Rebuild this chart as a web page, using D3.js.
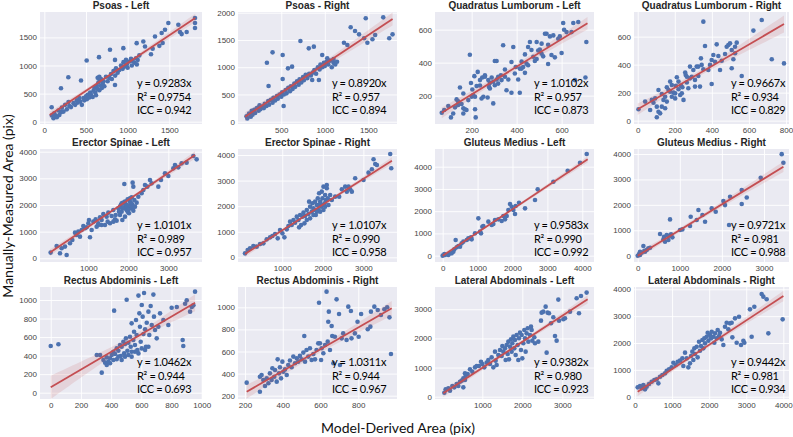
<!DOCTYPE html>
<html>
<head>
<meta charset="utf-8">
<script src="https://cdn.jsdelivr.net/npm/d3@7"></script>
<style>
  body { margin: 0; background: #fff; }
  .tick text { font-family: 'Liberation Sans', Arial, sans-serif; font-size: 8px; fill: #444; }
  .title { font-family: 'Liberation Sans', Arial, sans-serif; font-size: 10px; font-weight: bold; fill: #262626; }
  .note { font-family: Lato, 'Open Sans', sans-serif; font-size: 11px; letter-spacing: -0.3px; fill: #000; }
  .label { font-family: Lato, 'Open Sans', sans-serif; font-size: 14px; fill: #111; }
</style>
</head>
<body>
<svg id="chart" width="793" height="437"></svg>
<script>
const titles = [
  'Psoas - Left', 'Psoas - Right', 'Quadratus Lumborum - Left', 'Quadratus Lumborum - Right',
  'Erector Spinae - Left', 'Erector Spinae - Right', 'Gluteus Medius - Left', 'Gluteus Medius - Right',
  'Rectus Abdominis - Left', 'Rectus Abdominis - Right', 'Lateral Abdominals - Left', 'Lateral Abdominals - Right'
];
const slopeText = ['0.9283', '0.8920', '1.0102', '0.9667', '1.0101', '1.0107', '0.9583', '0.9721', '1.0462', '1.0311', '0.9382', '0.9442'];
const r2Text = ['0.9754', '0.957', '0.957', '0.934', '0.989', '0.990', '0.990', '0.981', '0.944', '0.944', '0.980', '0.981'];
const iccText = ['0.942', '0.894', '0.873', '0.829', '0.957', '0.958', '0.992', '0.988', '0.693', '0.967', '0.923', '0.934'];

// axis limits [min, max]
const xLimits = [[-52, 1892], [3, 1829], [37, 744], [-20, 816], [-208, 3842], [-91, 3829],
  [-220, 4335], [-88, 3594], [-71, 1002], [163, 1005], [-183, 3792], [-27, 4153]];
const yLimits = [[-41, 1952], [-42, 2013], [28, 707], [-24, 776], [-139, 4101], [-182, 4234],
  [-285, 4795], [-248, 4197], [-68, 1140], [170, 1184], [-79, 3765], [-86, 4086]];

const xTicks = [[0, 500, 1000, 1500], [500, 1000, 1500], [200, 400, 600], [0, 200, 400, 600, 800],
  [1000, 2000, 3000], [1000, 2000, 3000], [0, 1000, 2000, 3000, 4000], [0, 1000, 2000, 3000],
  [0, 200, 400, 600, 800, 1000], [200, 400, 600, 800], [1000, 2000, 3000], [0, 1000, 2000, 3000, 4000]];
const yTicks = [[0, 500, 1000, 1500], [0, 500, 1000, 1500, 2000], [200, 400, 600], [0, 200, 400, 600],
  [0, 1000, 2000, 3000, 4000], [0, 1000, 2000, 3000, 4000], [0, 1000, 2000, 3000, 4000], [0, 1000, 2000, 3000, 4000],
  [0, 200, 400, 600, 800, 1000], [200, 400, 600, 800, 1000], [0, 1000, 2000, 3000], [0, 1000, 2000, 3000, 4000]];

// fitted line ends [x0, y0, x1, y1]
const fitLines = [[64, 120, 1811, 1846], [85, 92, 1778, 1885], [67, 96, 715, 639], [0, 81, 789, 690],
  [42, 213, 3667, 3875], [82, 130, 3704, 3779], [0, 0, 4154, 4329], [0, 0, 3461, 3498],
  [0, 58, 956, 971], [209, 236, 977, 991], [25, 115, 3633, 3343], [72, 186, 4001, 3751]];

const psoasLeft = [[88,256],[200,595],[288,791],[508,1089],[656,1149],[788,1279],[948,1309],[440,732],[848,1100],[848,654],
  [90,110],[110,60],[120,150],[140,100],[150,80],[170,200],[180,120],[200,170],[210,250],[230,180],[250,300],[270,220],
  [290,350],[300,280],[320,260],[350,330],[370,300],[390,380],[400,340],[420,420],[430,360],[450,300],[470,420],[480,380],
  [500,450],[510,400],[520,480],[540,430],[550,520],[560,480],[580,440],[590,550],[600,600],[610,520],[620,470],[630,640],
  [640,580],[650,700],[660,560],[670,750],[680,640],[690,600],[700,680],[710,720],[720,630],[740,800],[760,720],[780,780],
  [800,850],[810,760],[830,900],[850,820],[860,950],[880,870],[900,920],[920,1000],[940,940],[950,1060],[960,980],[980,1100],
  [990,1020],[1000,960],[1020,1070],[1040,1120],[1050,1000],[1060,1080],[1080,1050],[1100,1130],[1110,1020],[1120,1100],
  [1140,1180],[1188,1428],[1208,1339],[1108,1398],[1328,1517],[1280,1200],[1300,1300],[1380,1350],[1420,1400],[1408,1577],
  [1448,1636],[1488,1755],[1608,1726],[1628,1595],[1648,1559],[1708,1595],[1808,1755],[1808,1666],[1808,1845],
  [640,780],[660,800],[680,760]];

const psoasRight = [[335,1083],[400,1273],[516,1224],[720,1481],[816,1346],[874,1377],[577,979],[624,1010],[354,655],
  [516,783],[527,288],[855,765],[932,765],[970,1224],[1028,1163],[1220,1450],[1259,1408],[1297,1732],[1347,1665],
  [1393,1603],[1470,1897],[1451,1530],[1489,1450],[1547,1512],[1578,1591],[1671,1915],[1740,1530],[1778,1603],
  [100,100],[110,60],[130,150],[150,90],[160,200],[170,130],[190,220],[200,160],[220,250],[240,200],[250,300],[260,230],
  [280,280],[300,250],[310,330],[330,290],[350,380],[360,310],[380,400],[400,350],[410,440],[430,390],[450,470],[460,420],
  [480,500],[500,460],[510,540],[530,500],[550,580],[560,520],[580,620],[600,560],[610,650],[630,600],[650,700],[660,640],
  [680,740],[700,680],[710,780],[730,720],[750,820],[760,760],[780,860],[800,800],[820,880],[840,850],[860,900],[880,950],
  [900,880],[920,1000],[940,960],[950,1050],[970,1000],[990,1080],[1000,1020],[1020,1100],[1040,1050],[1060,1120],
  [1080,1000],[1100,1080],[1120,1050],[1140,1100],[1100,1150]];

const qlLeft = [[67,96],[78,113],[108,68],[96,137],[126,129],[133,177],[140,165],[148,249],[155,149],[163,123],[170,117],
  [163,92],[192,448],[200,193],[203,237],[215,117],[218,68],[197,277],[212,318],[222,258],[227,344],[237,294],[247,310],
  [252,193],[259,324],[271,189],[277,253],[281,277],[289,310],[296,153],[303,410],[311,410],[311,298],[318,273],[330,324],
  [340,505],[348,358],[363,298],[377,217],[377,404],[385,495],[396,374],[407,298],[414,217],[422,406],[429,374],[437,338],
  [437,450],[451,495],[459,525],[466,477],[474,436],[489,422],[489,525],[496,474],[503,480],[511,454],[518,438],[526,575],
  [533,575],[540,508],[548,559],[555,446],[563,565],[607,640],[611,599],[622,585],[644,585],[652,640],[674,646],[710,525],
  [706,310],[659,294],[118,92],[140,143],[177,113],[163,213],[185,173],[207,203],[215,193],[237,261],[244,183],[259,314],
  [274,294],[281,243],[296,284],[303,263],[318,314],[333,294],[348,314],[355,233],[392,334],[414,364],[422,364],[444,394],
  [451,384],[481,410],[511,515],[540,392],[570,432],[585,545],[592,559],[600,458]];

const qlRight = [[4,81],[40,136],[85,128],[94,159],[103,100],[112,64],[121,52],[103,24],[130,190],[139,148],[148,171],
  [157,238],[148,88],[166,219],[175,279],[184,171],[193,200],[202,159],[206,248],[211,310],[220,224],[229,183],[234,248],
  [241,238],[256,343],[259,326],[265,272],[273,231],[282,386],[291,314],[300,362],[309,291],[318,386],[327,319],[336,243],
  [345,398],[354,367],[354,707],[363,533],[381,362],[390,398],[399,433],[399,262],[408,469],[417,421],[426,545],[435,462],
  [444,362],[453,428],[471,476],[480,528],[489,540],[498,552],[507,505],[516,438],[525,481],[525,528],[534,557],[561,319],
  [624,643],[669,719],[723,438],[789,409],[507,374],[67,76],[76,148],[112,219],[130,100],[157,136],[175,207],[184,255],
  [202,195],[220,279],[238,195],[247,148],[265,314],[282,302],[309,243],[327,386],[341,445]];

const esLeft = [[58,213],[208,463],[292,188],[458,125],[333,375],[417,438],[542,563],[600,688],[667,963],[750,1000],
  [792,813],[875,1213],[958,1163],[1000,1313],[1042,788],[1083,1063],[1125,1375],[1183,1463],[1250,1250],[1292,1538],
  [1333,1438],[1375,1663],[1417,1250],[1458,1563],[1500,1713],[1542,1313],[1583,1588],[1625,1813],[1667,1463],[1708,1413],
  [1750,1875],[1792,1625],[1813,2000],[1833,1750],[1850,1438],[1875,2088],[1900,1875],[1917,1563],[1933,2038],[1958,1813],
  [1983,2213],[2000,1938],[2017,1688],[2042,2125],[2067,1875],[2083,2288],[2100,2000],[2125,1788],[2150,2188],[2167,1938],
  [2108,2838],[1900,2788],[2125,2688],[2208,2088],[2250,2313],[2333,2438],[2375,2563],[2417,2750],[2475,2688],[2542,2938],
  [2583,2813],[2750,2688],[2817,2938],[2917,3188],[3000,3088],[3125,3375],[3167,3500],[3250,3413],[3333,3563],[3458,3588],
  [3708,3713],[3625,3838],[1792,1938],[1833,2063],[1917,1938],[1958,2000],[2000,1813],[2042,2000],[2083,2063],[2125,1938],
  [1983,1750],[2042,2250],[1917,2125],[1850,1875],[1767,1750],[1683,1625],[1625,1375],[1483,1375],[1333,1250],[1208,1188],
  [1250,1313],[1017,1438],[917,1125],[833,1063],[708,875]];

const esRight = [[82,156],[148,287],[206,352],[288,443],[370,417],[453,521],[535,547],[617,704],[700,782],[757,834],
  [823,912],[889,743],[946,1068],[1004,938],[1053,782],[1111,1094],[1152,1225],[1193,1394],[1234,1264],[1276,1459],
  [1317,1355],[1358,1590],[1399,1459],[1440,1655],[1465,1264],[1498,1590],[1523,1746],[1563,1616],[1605,1851],[1646,1694],
  [1662,2176],[1687,1981],[1728,1785],[1745,2111],[1769,1916],[1810,2176],[1827,1655],[1852,2046],[1876,2306],[1893,1851],
  [1909,2502],[1934,2176],[1959,1981],[1975,2567],[1991,2306],[2016,2763],[2041,2111],[2057,2437],[2074,2241],[2098,2698],
  [2123,2306],[2140,2046],[2098,2828],[2181,2437],[2222,2241],[2304,2371],[2403,2371],[2469,2658],[2551,2763],[2592,2567],
  [2634,2763],[2675,2658],[2716,2567],[2798,3088],[3004,3023],[3127,3310],[3210,3440],[3292,3648],[3333,3609],[3251,3831],
  [3662,4039],[3687,3479],[1810,1851],[1893,2046],[1975,2046],[2016,1851],[2057,1981],[1934,1785],[1852,1785],[1769,1655],
  [1687,1524],[1605,1459],[1547,1329],[1415,1173]];

const gmLeft = [[0,0],[48,75],[162,30],[210,105],[306,180],[334,285],[372,704],[401,375],[449,434],[497,404],[592,629],
  [688,704],[783,779],[831,734],[927,1004],[1022,1678],[1070,1079],[1098,1004],[1136,1303],[1165,1333],[1308,1528],
  [1404,1378],[1451,1423],[1499,1603],[1595,1633],[1690,1558],[1738,1783],[1786,1633],[1834,1783],[1881,2052],[1929,2322],
  [1977,2202],[2025,2052],[2072,1873],[2091,2232],[2187,2382],[2359,2127],[2645,2502],[2722,2981],[3171,3326],[3581,3820],
  [3935,4179],[4126,4569],[544,554],[735,779],[812,824],[258,105],[67,30]];

const gmRight = [[0,0],[32,66],[55,157],[95,118],[135,380],[158,197],[214,223],[253,288],[293,314],[531,852],[610,642],
  [626,747],[649,550],[689,813],[745,787],[768,1428],[824,721],[1006,1009],[1061,1035],[1243,1166],[1259,1533],[1402,1402],
  [1442,1795],[1537,1599],[1600,1337],[1758,1860],[1853,1729],[2035,2148],[2075,1991],[2170,1205],[2194,2319],[2471,2581],
  [2471,2031],[2590,2292],[2922,3065],[3421,3995],[3461,3654],[55,26],[174,157],[729,616],[792,839]];

const raLeft = [[0,504],[51,522],[305,406],[327,406],[338,216],[349,353],[360,324],[371,381],[382,335],[393,371],
  [404,406],[415,442],[420,885],[426,417],[437,478],[437,360],[448,453],[459,514],[464,396],[470,496],[481,550],[486,424],
  [492,525],[498,586],[503,1003],[508,453],[514,539],[525,604],[530,496],[536,442],[536,748],[547,568],[552,658],[558,514],
  [565,784],[569,622],[574,460],[581,1047],[587,856],[591,712],[596,550],[603,946],[609,820],[614,633],[618,1075],[625,683],
  [631,496],[636,755],[647,874],[653,622],[662,935],[669,730],[680,1058],[684,820],[691,676],[702,586],[713,712],[724,856],
  [746,784],[779,730],[801,917],[835,924],[874,568],[878,504],[890,960],[901,996],[923,874],[934,924],[945,942],[956,1090],
  [371,299],[393,317],[415,353],[448,389],[470,353],[492,389],[514,406],[536,389],[558,442],[581,424],[603,478],[625,460],
  [647,496]];

const raRight = [[209,318],[279,372],[288,387],[279,236],[297,342],[306,288],[315,357],[324,312],[332,402],[341,342],
  [345,448],[355,372],[359,432],[368,327],[373,529],[380,402],[385,457],[391,357],[398,508],[403,417],[412,438],[421,387],
  [429,478],[438,518],[447,457],[456,554],[465,493],[474,538],[482,508],[491,560],[500,529],[509,590],[514,740],[518,508],
  [526,614],[535,554],[544,629],[553,523],[562,578],[571,529],[579,614],[588,674],[597,674],[592,1042],[603,523],[606,629],
  [615,584],[624,659],[632,1142],[638,689],[641,870],[644,961],[650,614],[659,831],[662,740],[668,493],[676,734],[685,1072],
  [698,940],[703,478],[712,719],[720,764],[738,704],[747,1006],[761,967],[764,719],[782,764],[796,870],[802,734],[815,940],
  [850,801],[864,825],[867,961],[885,1006],[903,976],[920,930],[938,982],[953,1000],[965,909],[973,578]];

const laLeft = [[50,137],[83,252],[150,286],[192,206],[250,367],[300,321],[358,435],[400,367],[442,515],[483,550],
  [525,630],[567,573],[567,802],[583,710],[525,321],[633,779],[692,939],[750,859],[817,1008],[858,1053],[917,1053],
  [967,1202],[1000,1122],[1050,1008],[1108,1168],[1150,1260],[1192,1122],[1233,1351],[1275,1008],[1317,1546],[1333,1237],
  [1358,1088],[1400,1431],[1442,1603],[1483,1397],[1500,1740],[1525,1546],[1567,1660],[1583,1260],[1608,1775],[1633,1466],
  [1650,1889],[1667,1282],[1692,1717],[1717,1969],[1733,1546],[1750,1832],[1775,2061],[1800,1660],[1817,1946],[1833,1431],
  [1858,2118],[1883,1775],[1900,1260],[1917,2004],[1942,2198],[1967,1603],[1983,2118],[2000,1317],[2025,1832],[2050,2290],
  [2067,2004],[2083,1546],[2108,2175],[2133,2347],[2150,1889],[2192,2118],[2217,2404],[2233,2290],[2250,1923],[2300,2038],
  [2317,1832],[2400,1889],[2467,2610],[2483,2885],[2525,2919],[2583,3091],[2608,1512],[2633,2885],[2667,2862],[2717,2519],
  [2775,2725],[2817,2084],[2858,1923],[2900,3332],[2917,2610],[3025,2656],[3067,2690],[3192,2919],[3358,3378],[3417,2862],
  [3467,3458],[3608,3572]];

const laRight = [[72,348],[135,398],[180,311],[225,435],[270,273],[315,373],[378,472],[450,559],[522,621],[585,646],
  [630,497],[675,745],[738,807],[810,869],[855,969],[918,1018],[989,1093],[1034,1267],[1097,1180],[1151,1304],[1214,1342],
  [1277,1428],[1304,1143],[1349,1640],[1394,1428],[1438,1093],[1483,1242],[1511,1515],[1546,1677],[1573,1366],[1600,1801],
  [1618,1590],[1663,1863],[1690,1466],[1726,2049],[1753,1714],[1780,1888],[1816,2111],[1843,1801],[1870,2173],[1888,1987],
  [1933,2235],[1960,2384],[1978,2086],[2023,2297],[2050,2173],[2068,2421],[2113,2235],[2140,2012],[2158,2359],[2203,2173],
  [2230,2483],[2266,2260],[2293,2384],[2338,2136],[2383,1925],[2427,2608],[2472,2757],[2517,2508],[2562,2732],[2607,2757],
  [2625,2211],[2697,2918],[2742,2012],[2805,2980],[2859,1925],[2922,2086],[2949,2012],[3101,3254],[3146,2235],[3218,3353],
  [3416,3826],[3461,3726],[3551,3627],[3596,2359],[3982,2881]];

const panelPoints = [psoasLeft, psoasRight, qlLeft, qlRight, esLeft, esRight, gmLeft, gmRight, raLeft, raRight, laLeft, laRight];

const colLeft = [40, 238, 435, 634];
const colWidth = [162, 159, 159, 155];
const rowTop = [12, 149, 287];
const rowHeight = [112, 113, 112];
const noteX = [97, 94, 99, 97];
const noteY = [75, 80, 79];

const svg = d3.select('#chart');

titles.forEach((title, i) => {
  const row = Math.floor(i / 4);
  const col = i % 4;
  const left = colLeft[col];
  const top = rowTop[row];
  const w = colWidth[col];
  const h = rowHeight[row];

  const x = d3.scaleLinear().domain(xLimits[i]).range([left, left + w]);
  const y = d3.scaleLinear().domain(yLimits[i]).range([top + h, top]);

  const g = svg.append('g');

  g.append('rect')
    .attr('x', left).attr('y', top)
    .attr('width', w).attr('height', h)
    .attr('fill', '#eaeaf2');

  // grid
  g.append('g')
    .attr('transform', `translate(0,${top + h})`)
    .call(d3.axisBottom(x).tickValues(xTicks[i]).tickSize(-h).tickFormat(''))
    .call((a) => a.select('.domain').remove())
    .selectAll('line').attr('stroke', '#fff').attr('stroke-width', 0.9);
  g.append('g')
    .attr('transform', `translate(${left},0)`)
    .call(d3.axisLeft(y).tickValues(yTicks[i]).tickSize(-w).tickFormat(''))
    .call((a) => a.select('.domain').remove())
    .selectAll('line').attr('stroke', '#fff').attr('stroke-width', 0.9);

  // tick labels
  g.append('g')
    .attr('transform', `translate(0,${top + h})`)
    .call(d3.axisBottom(x).tickValues(xTicks[i]).tickSize(0).tickPadding(3).tickFormat(d3.format('d')))
    .call((a) => a.select('.domain').remove())
    .selectAll('text').attr('font-family', null).attr('font-size', null);
  g.append('g')
    .attr('transform', `translate(${left},0)`)
    .call(d3.axisLeft(y).tickValues(yTicks[i]).tickSize(0).tickPadding(3).tickFormat(d3.format('d')))
    .call((a) => a.select('.domain').remove())
    .selectAll('text').attr('font-family', null).attr('font-size', null);

  const pts = panelPoints[i];
  g.append('g')
    .selectAll('circle')
    .data(pts)
    .enter()
    .append('circle')
    .attr('cx', (d) => x(d[0]))
    .attr('cy', (d) => y(d[1]))
    .attr('r', 2.3)
    .attr('fill', '#4c72b0');

  // regression line and its 95% band
  const [x0, y0, x1, y1] = fitLines[i];
  const slope = (y1 - y0) / (x1 - x0);
  const fit = (v) => y0 + slope * (v - x0);
  const n = pts.length;
  const xbar = d3.mean(pts, (d) => d[0]);
  const sxx = d3.sum(pts, (d) => (d[0] - xbar) ** 2);
  const s = Math.sqrt(d3.sum(pts, (d) => (d[1] - fit(d[0])) ** 2) / (n - 2));
  const half = (v) => 1.97 * s * Math.sqrt(1 / n + (v - xbar) ** 2 / sxx);
  const xs = d3.range(0, 41).map((k) => x0 + (x1 - x0) * k / 40);

  g.append('path')
    .datum(xs)
    .attr('d', d3.area()
      .x((v) => x(v))
      .y0((v) => y(fit(v) - half(v)))
      .y1((v) => y(fit(v) + half(v))))
    .attr('fill', '#c44e52')
    .attr('fill-opacity', 0.15);

  g.append('line')
    .attr('x1', x(x0)).attr('y1', y(y0))
    .attr('x2', x(x1)).attr('y2', y(y1))
    .attr('stroke', '#c44e52')
    .attr('stroke-width', 1.8);

  g.append('text')
    .attr('class', 'title')
    .attr('x', left + w / 2)
    .attr('y', top - 3)
    .attr('text-anchor', 'middle')
    .text(title);

  const notes = [`y = ${slopeText[i]}x`, `R² = ${r2Text[i]}`, `ICC = ${iccText[i]}`];
  g.append('g')
    .selectAll('text')
    .data(notes)
    .enter()
    .append('text')
    .attr('class', 'note')
    .attr('x', left + noteX[col])
    .attr('y', (d, k) => top + noteY[row] + k * 13.5)
    .text((d) => d);
});

svg.append('text')
  .attr('class', 'label')
  .attr('transform', 'translate(13,206) rotate(-90)')
  .attr('text-anchor', 'middle')
  .text('Manually-Measured Area (pix)');

svg.append('text')
  .attr('class', 'label')
  .attr('x', 398)
  .attr('y', 433)
  .attr('text-anchor', 'middle')
  .text('Model-Derived Area (pix)');
</script>
</body>
</html>
